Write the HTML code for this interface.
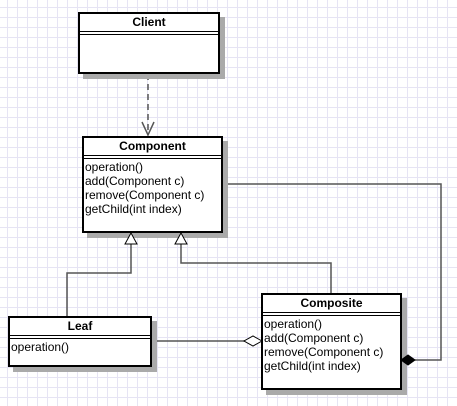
<!DOCTYPE html>
<html><head><style>
body{margin:0;width:457px;height:406px;overflow:hidden;background:#fff;
background-image:linear-gradient(#e6e4f4 1px,transparent 1px),linear-gradient(90deg,#e6e4f4 1px,transparent 1px);background-size:10px 10px;background-position:-3px -3px;
font-family:"Liberation Sans",sans-serif;}
.box{position:absolute;background:#fff;border:2px solid #000;box-shadow:5px 5px 0 #aaa;box-sizing:border-box;font-size:12px;}
.t{font-weight:bold;text-align:center;height:17px;line-height:16px;border-bottom:1px solid #000;}
.d{height:2px;border-bottom:1px solid #000;}
.ops{padding:1px 0 0 1px;line-height:14px;}
svg{position:absolute;left:0;top:0}
#top{z-index:5}
</style></head><body>
<svg width="457" height="406">
<g stroke="#555" stroke-width="1.5" fill="none">
<line x1="148" y1="74" x2="148" y2="134" stroke-dasharray="6,4"/>
<polyline points="142,122 148,135 154,122"/>
<polyline points="67,316 67,273 131,273 131,244"/>
<polyline points="331,293 331,263 181,263 181,244"/>
<polyline points="222,184 441,184 441,360 415,360"/>
<line x1="151" y1="341" x2="245" y2="341"/>
</g>
</svg>
<div class="box" style="left:78px;top:12px;width:142px;height:62px"><div class="t">Client</div><div class="d"></div></div>
<div class="box" style="left:82px;top:136px;width:141px;height:97px"><div class="t">Component</div><div class="d"></div><div class="ops">operation()<br>add(Component c)<br>remove(Component c)<br>getChild(int index)</div></div>
<div class="box" style="left:8px;top:316px;width:144px;height:51px"><div class="t">Leaf</div><div class="d"></div><div class="ops">operation()</div></div>
<div class="box" style="left:261px;top:293px;width:141px;height:97px"><div class="t">Composite</div><div class="d"></div><div class="ops">operation()<br>add(Component c)<br>remove(Component c)<br>getChild(int index)</div></div>
<svg id="top" width="457" height="406">
<g stroke="#000" stroke-width="1">
<polygon points="131,233 125,244 137,244" fill="#fff"/>
<polygon points="181,233 175,244 187,244" fill="#fff"/>
<polygon points="262,341 253,336 244,341 253,346" fill="#fff"/>
<polygon points="401,360 408,355 415,360 408,365" fill="#000"/>
</g>
</svg>
</body></html>
